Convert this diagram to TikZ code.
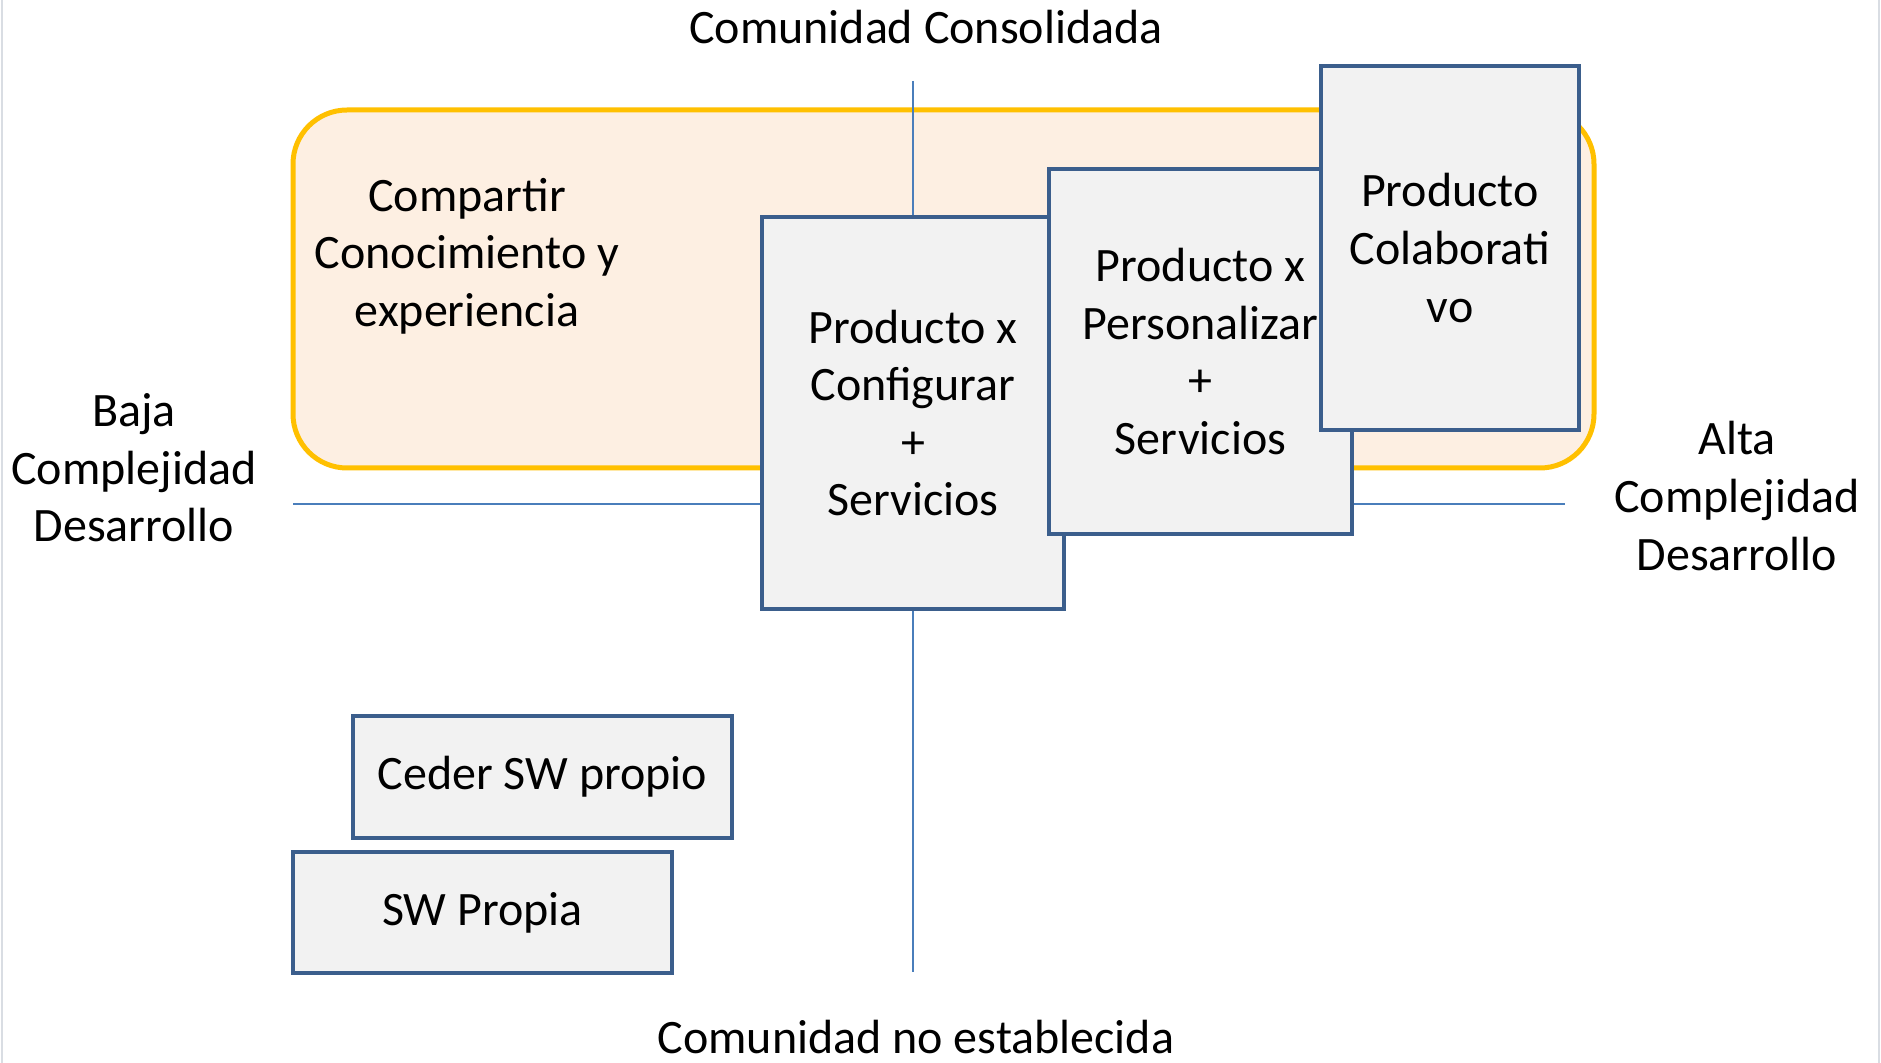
\documentclass[tikz,border=0pt]{standalone}
\usepackage{fontspec}
\setmainfont{Carlito}
\definecolor{boxline}{HTML}{3B5E8C}
\definecolor{boxfill}{HTML}{F2F2F2}
\definecolor{axisblue}{HTML}{4A7EBB}
\definecolor{goldline}{HTML}{FFC000}
\definecolor{peach}{HTML}{FDEFE2}
\definecolor{edgegray}{HTML}{D9DDE3}
\tikzset{
  lbl/.style={align=center, inner sep=0pt, font=\fontsize{24}{28.8}\selectfont},
  prodbox/.style={draw=boxline, line width=2.4pt, fill=boxfill, align=center, inner sep=0pt,
    font=\fontsize{24}{28.8}\selectfont},
  zone/.style={draw=goldline, line width=2.5pt, fill=peach, rounded corners=27pt, inner sep=0pt},
  axis/.style={draw=axisblue, line width=1pt}
}
\begin{document}
\begin{tikzpicture}[x=0.5pt,y=-0.5pt]
\useasboundingbox[fill=white] (0,0) rectangle (1881,1063);
\draw[edgegray, line width=1.2pt] (2,0) -- (2,1063);
\draw[edgegray, line width=1.2pt] (1879,0) -- (1879,1063);
% zone
\node[zone, minimum width=650.5pt, minimum height=179pt] (zone) at (943.5,289) {};
\node[lbl] (comp) at (467,256) {Compartir\\Conocimiento y\\experiencia};
% axes
\coordinate (vt) at (913,81);
\coordinate (vb) at (913,972);
\coordinate (hl) at (293,504);
\coordinate (hr) at (1565,504);
\draw[axis] (vt) -- (vb);
\draw[axis] (hl) -- (hr);
% axis labels
\node[lbl] (top) at (926,27) {Comunidad Consolidada};
\node[lbl] (bot) at (916,1037) {Comunidad no establecida};
\node[lbl] (baja) at (134,468) {Baja\\Complejidad\\Desarrollo};
\node[lbl] (alta) at (1737,496) {Alta\\Complejidad\\Desarrollo};
% product boxes
\node[prodbox, minimum width=151pt, minimum height=196pt] (conf) at (913,413) {Producto x\\Configurar\\+\\Servicios};
\node[prodbox, minimum width=151.5pt, minimum height=182.5pt] (pers) at (1200.5,351.5) {Producto x\\Personalizar\\+\\Servicios};
\node[prodbox, minimum width=129pt, minimum height=182pt] (colab) at (1450,248) {Producto\\Colaborati\\vo};
\node[prodbox, minimum width=189.5pt, minimum height=61pt] (ceder) at (542.5,777) {Ceder SW propio};
\node[prodbox, minimum width=189.5pt, minimum height=60.5pt] (swp) at (482.5,912.5) {SW Propia};
\end{tikzpicture}
\end{document}
